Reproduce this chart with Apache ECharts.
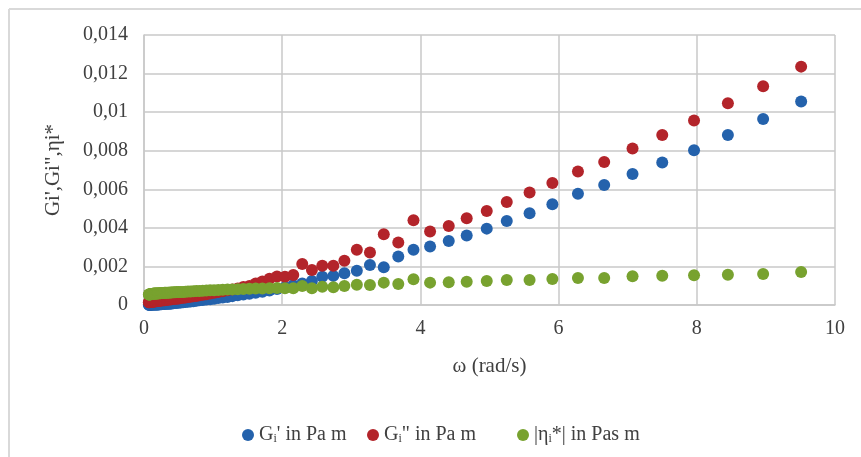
<!DOCTYPE html>
<html>
<head>
<meta charset="utf-8">
<script src="https://cdn.jsdelivr.net/npm/echarts@6/dist/echarts.min.js"></script>
<style>html,body{margin:0;padding:0;background:#fff}#c{width:861px;height:457px}</style>
</head>
<body>
<div id="c"></div>
<script>
const omega = [0.07,0.074,0.079,0.083,0.088,0.094,0.099,0.105,0.111,0.118,0.125,0.132,0.140,0.149,0.158,0.167,0.177,0.188,0.199,0.211,0.223,0.237,0.251,0.266,0.282,0.298,0.316,0.335,0.355,0.376,0.399,0.423,0.448,0.475,0.504,0.534,0.566,0.600,0.636,0.674,0.715,0.758,0.803,0.851,0.903,0.957,1.014,1.075,1.139,1.208,1.280,1.357,1.438,1.525,1.616,1.713,1.816,1.925,2.04,2.16,2.29,2.43,2.58,2.74,2.90,3.08,3.27,3.47,3.68,3.90,4.14,4.41,4.67,4.96,5.25,5.58,5.91,6.28,6.66,7.07,7.50,7.96,8.45,8.96,9.51];

const gStorage = [0.00001,0.00001,0.00001,0.00001,0.00001,0.00002,0.00002,0.00002,0.00002,0.00002,0.00002,0.00002,0.00002,0.00002,0.00003,0.00003,0.00003,0.00003,0.00003,0.00003,0.00004,0.00004,0.00004,0.00005,0.00005,0.00005,0.00006,0.00006,0.00007,0.00007,0.00008,0.00009,0.00010,0.00011,0.00012,0.00013,0.00014,0.00015,0.00017,0.00018,0.00020,0.00022,0.00024,0.00026,0.00028,0.00030,0.00033,0.00036,0.00039,0.00042,0.00046,0.00050,0.00054,0.00058,0.00063,0.00069,0.00075,0.00083,0.00092,0.00102,0.00112,0.00125,0.00147,0.00151,0.00165,0.00178,0.00208,0.00196,0.00251,0.00286,0.00303,0.00332,0.00360,0.00396,0.00436,0.00476,0.00523,0.00577,0.00622,0.00679,0.00739,0.00803,0.00882,0.00965,0.01055];

const gLoss = [0.00014,0.00014,0.00015,0.00015,0.00015,0.00016,0.00016,0.00016,0.00017,0.00017,0.00017,0.00018,0.00018,0.00019,0.00019,0.00020,0.00020,0.00021,0.00021,0.00022,0.00022,0.00023,0.00023,0.00024,0.00025,0.00025,0.00026,0.00027,0.00028,0.00029,0.00030,0.00031,0.00032,0.00033,0.00034,0.00036,0.00037,0.00039,0.00041,0.00043,0.00045,0.00047,0.00050,0.00053,0.00056,0.00059,0.00063,0.00067,0.00071,0.00076,0.00081,0.00086,0.00093,0.00099,0.00112,0.00122,0.00136,0.00148,0.00147,0.00156,0.00213,0.00182,0.00203,0.00203,0.00230,0.00286,0.00272,0.00367,0.00324,0.00440,0.00381,0.00410,0.00450,0.00488,0.00534,0.00583,0.00632,0.00692,0.00741,0.00812,0.00882,0.00957,0.01046,0.01134,0.01236];

const etaAbs = [0.00054,0.00055,0.00055,0.00055,0.00056,0.00056,0.00056,0.00057,0.00057,0.00057,0.00058,0.00058,0.00058,0.00059,0.00059,0.00059,0.00060,0.00060,0.00060,0.00061,0.00061,0.00061,0.00062,0.00062,0.00062,0.00063,0.00063,0.00064,0.00064,0.00065,0.00065,0.00066,0.00066,0.00067,0.00067,0.00068,0.00068,0.00069,0.00070,0.00070,0.00071,0.00072,0.00073,0.00074,0.00075,0.00076,0.00077,0.00078,0.00079,0.00080,0.00081,0.00082,0.00083,0.00084,0.00085,0.00086,0.00087,0.00088,0.00087,0.00087,0.00098,0.00087,0.00095,0.00092,0.00099,0.00105,0.00104,0.00116,0.00109,0.00134,0.00116,0.00118,0.00121,0.00125,0.00130,0.00130,0.00135,0.00140,0.00140,0.00149,0.00152,0.00154,0.00157,0.00161,0.00171];

const seriesNames = ["Gi' in Pa m", 'Gi" in Pa m', '|ηi*| in Pas m'];
const seriesColors = ['#2462ac', '#b3242a', '#78a22f'];
const xTicks = [0, 2, 4, 6, 8, 10];
const yTicks = [0, 0.002, 0.004, 0.006, 0.008, 0.01, 0.012, 0.014];

const FONT = '"Liberation Serif","Times New Roman",serif';
const allSeries = [gStorage, gLoss, etaAbs];

const chart = echarts.init(document.getElementById('c'), null, {renderer: 'canvas'});

const richLegend = {
  t: {fontFamily: FONT, fontSize: 20, color: '#404040', verticalAlign: 'middle', lineHeight: 20},
  s: {fontFamily: FONT, fontSize: 12, color: '#404040', verticalAlign: 'bottom', lineHeight: 20, padding: [6, 0, 0, 0]}
};
const legendFormats = [
  "{t|G}{s|i}{t|' in Pa m}",
  '{t|G}{s|i}{t|" in Pa m}',
  '{t||η}{s|i}{t|*| in Pas m}'
];
const legendLefts = [237, 362, 512];

chart.setOption({
  animation: false,
  backgroundColor: '#ffffff',
  graphic: [
    {type: 'line', shape: {x1: 9, y1: 9, x2: 861, y2: 9}, style: {stroke: '#d9d9d9', lineWidth: 2}},
    {type: 'line', shape: {x1: 9, y1: 9, x2: 9, y2: 457}, style: {stroke: '#d9d9d9', lineWidth: 2}}
  ],
  grid: {left: 144, right: 26, top: 35, bottom: 152},
  legend: seriesNames.map((n, i) => ({
    data: [n],
    left: legendLefts[i],
    top: 420,
    icon: 'circle',
    itemWidth: 12,
    itemHeight: 12,
    itemGap: 0,
    formatter: () => legendFormats[i],
    textStyle: {fontFamily: FONT, fontSize: 20, color: '#404040', rich: richLegend}
  })),
  xAxis: {
    type: 'value',
    min: xTicks[0], max: xTicks[xTicks.length - 1], interval: 2,
    name: 'ω (rad/s)',
    nameLocation: 'middle',
    nameGap: 51,
    nameTextStyle: {fontFamily: FONT, fontSize: 21, color: '#404040'},
    axisLine: {show: true, lineStyle: {color: '#c8c8c8', width: 1.5}},
    axisTick: {show: false},
    splitLine: {show: true, lineStyle: {color: '#c8c8c8', width: 1.5}},
    axisLabel: {fontFamily: FONT, fontSize: 20, color: '#404040', margin: 14}
  },
  yAxis: {
    type: 'value',
    min: yTicks[0], max: yTicks[yTicks.length - 1], interval: 0.002,
    name: 'Gi\',Gi",ηi*',
    nameLocation: 'middle',
    nameGap: 80,
    nameRotate: 90,
    nameTextStyle: {fontFamily: FONT, fontSize: 21, color: '#404040'},
    axisLine: {show: true, lineStyle: {color: '#c8c8c8', width: 1.5}},
    axisTick: {show: false},
    splitLine: {show: true, lineStyle: {color: '#c8c8c8', width: 1.5}},
    axisLabel: {
      fontFamily: FONT, fontSize: 20, color: '#404040', margin: 16,
      formatter: v => v === 0 ? '0' : String(+v.toFixed(3)).replace('.', ',')
    }
  },
  series: allSeries.map((vals, i) => ({
    name: seriesNames[i],
    type: 'scatter',
    symbol: 'circle',
    symbolSize: 12,
    itemStyle: {color: seriesColors[i], opacity: 1},
    data: omega.map((x, j) => [x, vals[j]])
  }))
});
</script>
</body>
</html>
